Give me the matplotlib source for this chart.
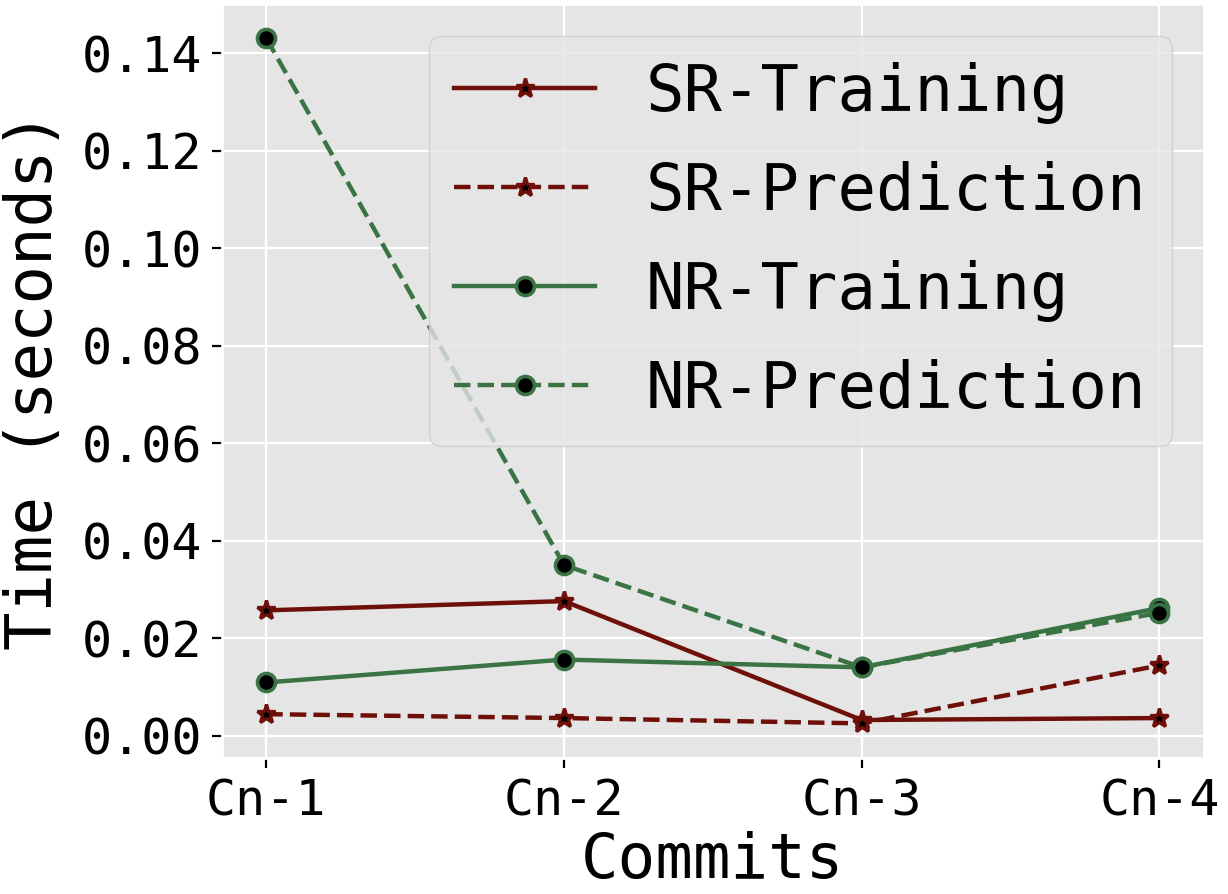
import matplotlib
matplotlib.use("Agg")
import matplotlib.pyplot as plt

commits = ["Cn-1", "Cn-2", "Cn-3", "Cn-4"]
sr_training = [0.0257, 0.0276, 0.0032, 0.0036]
sr_prediction = [0.0044, 0.0036, 0.0025, 0.0144]
nr_training = [0.0109, 0.0156, 0.0140, 0.0262]
nr_prediction = [0.1431, 0.0350, 0.0140, 0.0252]
yticks = [0.0, 0.02, 0.04, 0.06, 0.08, 0.10, 0.12, 0.14]

plt.style.use("ggplot")
plt.rcParams["font.family"] = ["DejaVu Sans Mono"]

red = "#6E1009"
green = "#3A7444"

fig = plt.figure(figsize=(6.14, 4.47), dpi=200)
ax = fig.add_axes([0.1805, 0.1525, 0.800, 0.843])

x = list(range(len(commits)))
star_kw = dict(marker="*", markersize=7, markerfacecolor="black",
               markeredgecolor=red, markeredgewidth=1.2, linewidth=1.6, color=red)
circ_kw = dict(marker="o", markersize=6.5, markerfacecolor="black",
               markeredgecolor=green, markeredgewidth=1.3, linewidth=1.6, color=green)
ax.plot(x, sr_training, linestyle="-", label="SR-Training", **star_kw)
ax.plot(x, sr_prediction, linestyle="--", label="SR-Prediction", **star_kw)
ax.plot(x, nr_training, linestyle="-", label="NR-Training", **circ_kw)
ax.plot(x, nr_prediction, linestyle="--", label="NR-Prediction", **circ_kw)

ax.set_xticks(x)
ax.set_xticklabels(commits)
ax.set_yticks(yticks)
ax.set_yticklabels([f"{v:.2f}" for v in yticks])
ax.tick_params(axis="both", labelsize=18, colors="black", length=3.5, pad=3.5)
ax.set_xlabel("Commits", fontsize=22.5, color="black", labelpad=2)
ax.set_ylabel("Time (seconds)", fontsize=23, color="black", labelpad=6)
ax.grid(True, color="white", linewidth=0.8)

leg = ax.legend(loc="upper right", fontsize=23, handlelength=2.2,
                labelspacing=0.58, framealpha=0.8)
for t in leg.get_texts():
    t.set_color("black")

fig.savefig("out.png", dpi=200)
